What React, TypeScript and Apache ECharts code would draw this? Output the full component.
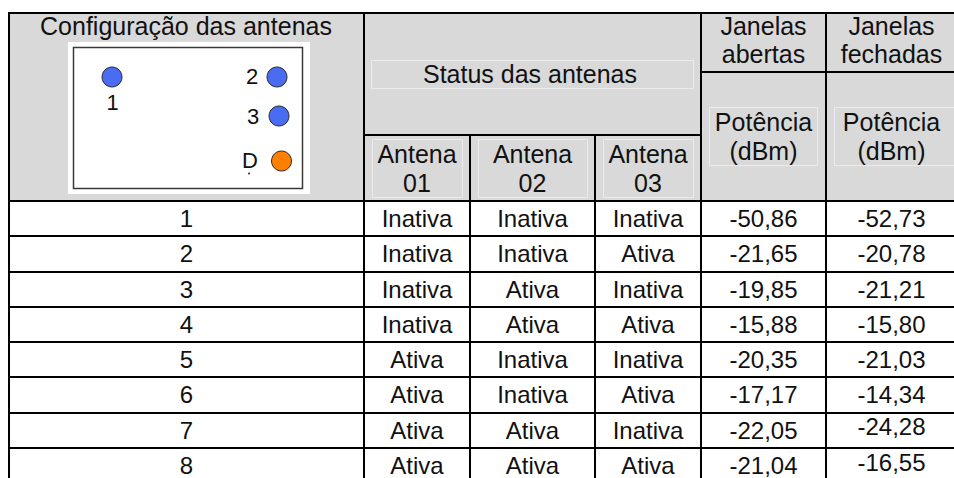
import React, { useEffect, useRef } from "react";
import * as echarts from "echarts";

// ---- Data ----
const configuracoes = ["1", "2", "3", "4", "5", "6", "7", "8"];
const antena01 = ["Inativa", "Inativa", "Inativa", "Inativa", "Ativa", "Ativa", "Ativa", "Ativa"];
const antena02 = ["Inativa", "Inativa", "Ativa", "Ativa", "Inativa", "Inativa", "Ativa", "Ativa"];
const antena03 = ["Inativa", "Ativa", "Inativa", "Ativa", "Inativa", "Ativa", "Inativa", "Ativa"];
const potenciaAbertas = [-50.86, -21.65, -19.85, -15.88, -20.35, -17.17, -22.05, -21.04];
const potenciaFechadas = [-52.73, -20.78, -21.21, -15.8, -21.03, -14.34, -24.28, -16.55];

const tituloConfig = "Configuração das antenas";
const tituloStatus = "Status das antenas";
const antenaHeaders = [["Antena", "01"], ["Antena", "02"], ["Antena", "03"]];
const janelasHeaders = [["Janelas", "abertas"], ["Janelas", "fechadas"]];
const potenciaHeader = ["Potência", "(dBm)"];
const diagramLabels = ["1", "2", "3", "D"];

// ---- Layout ----
const W = 954;
const H = 478;
const LEFT = 9;
const TOP = 13;
const RIGHT = 957;
const COLS = [LEFT, 364, 470, 595, 701, 826, RIGHT];
const HEADER_BOTTOM = 201;
const ROW_H = 35.25;
const STATUS_SPLIT = 135;
const JANELAS_SPLIT = 72;
const FONT = "'Liberation Sans', Arial, Helvetica, sans-serif";
const FS_BODY = 24;
const FS_HEAD = 25;
const TXT = "#111111";
const GREY = "#d9d9d9";
// small vertical shifts of the closed-window column text in the last rows (layout only)
const FECHADAS_SHIFT = [0, 0, 0, 0, 0, 0, -4, -3];

const fmt = (v: number) => v.toFixed(2).replace(".", ",");

function txt(text: string, x: number, y: number, size = FS_BODY): any {
  return {
    type: "text",
    x,
    y,
    silent: true,
    style: {
      text,
      fill: TXT,
      fontSize: size,
      fontFamily: FONT,
      align: "center",
      verticalAlign: "middle",
    },
  };
}

function line(x1: number, y1: number, x2: number, y2: number, w = 2, c = "#000"): any {
  return { type: "line", silent: true, shape: { x1, y1, x2, y2 }, style: { stroke: c, lineWidth: w } };
}

function faintBox(x1: number, y1: number, x2: number, y2: number): any {
  return {
    type: "rect",
    silent: true,
    shape: { x: x1 + 0.5, y: y1 + 0.5, width: x2 - x1, height: y2 - y1 },
    style: { fill: "none", stroke: "#ebebeb", lineWidth: 1 },
  };
}

function buildElements(): any[] {
  const els: any[] = [];
  // header background
  els.push({
    type: "rect",
    silent: true,
    shape: { x: LEFT, y: TOP, width: RIGHT - LEFT, height: HEADER_BOTTOM - TOP },
    style: { fill: GREY },
  });

  // faint text frames in header
  els.push(faintBox(371, 60, 693, 88));
  els.push(faintBox(372, 139, 462, 197));
  els.push(faintBox(478, 139, 587, 197));
  els.push(faintBox(603, 139, 693, 197));
  els.push(faintBox(709, 107, 817, 165));
  els.push(faintBox(834, 107, 956, 165));

  // diagram image
  els.push({ type: "rect", silent: true, shape: { x: 68, y: 42, width: 242, height: 152 }, style: { fill: "#ffffff" } });
  els.push({
    type: "rect",
    silent: true,
    shape: { x: 73.5, y: 47.5, width: 229, height: 141 },
    style: { fill: "#ffffff", stroke: "#3a3a3a", lineWidth: 1.5 },
  });
  const circles = [
    { cx: 112, cy: 77, fill: "#4a6cf2" },
    { cx: 277, cy: 77, fill: "#4a6cf2" },
    { cx: 279, cy: 116, fill: "#4a6cf2" },
    { cx: 281.5, cy: 161, fill: "#ff8000" },
  ];
  circles.forEach((c) =>
    els.push({
      type: "circle",
      silent: true,
      shape: { cx: c.cx, cy: c.cy, r: 10 },
      style: { fill: c.fill, stroke: "#2a2a2a", lineWidth: 1 },
    })
  );
  const labelPos = [
    [112.5, 102.5],
    [252, 76],
    [253, 116],
    [250, 160],
  ];
  diagramLabels.forEach((l, i) => els.push(txt(l, labelPos[i][0], labelPos[i][1], 22)));
  els.push({ type: "circle", silent: true, shape: { cx: 249, cy: 173.5, r: 1.1 }, style: { fill: "#444" } });

  // header texts
  els.push(txt(tituloConfig, 186, 26, FS_HEAD));
  els.push(txt(tituloStatus, 530, 74, FS_HEAD));
  antenaHeaders.forEach((h, i) => {
    const cx = (COLS[i + 1] + COLS[i + 2]) / 2;
    els.push(txt(h[0], cx, 154, FS_HEAD));
    els.push(txt(h[1], cx, 182.5, FS_HEAD));
  });
  janelasHeaders.forEach((h, i) => {
    const cx = (COLS[i + 4] + COLS[i + 5]) / 2;
    els.push(txt(h[0], cx, 25.5, FS_HEAD));
    els.push(txt(h[1], cx, 54, FS_HEAD));
    els.push(txt(potenciaHeader[0], cx, 122, FS_HEAD));
    els.push(txt(potenciaHeader[1], cx, 151, FS_HEAD));
  });

  // body rows
  const columns = [
    configuracoes,
    antena01,
    antena02,
    antena03,
    potenciaAbertas.map(fmt),
    potenciaFechadas.map(fmt),
  ];
  configuracoes.forEach((_, r) => {
    const cy = HEADER_BOTTOM + ROW_H * (r + 0.5);
    columns.forEach((col, c) => {
      const cx = (COLS[c] + COLS[c + 1]) / 2;
      const dy = c === 5 ? FECHADAS_SHIFT[r] : 0;
      els.push(txt(col[r], cx, cy + dy));
    });
  });

  // grid lines
  els.push(line(LEFT - 1, TOP, W, TOP));
  els.push(line(LEFT, TOP - 1, LEFT, H));
  els.push(line(COLS[1], TOP, COLS[1], H));
  els.push(line(COLS[2], STATUS_SPLIT, COLS[2], H));
  els.push(line(COLS[3], STATUS_SPLIT, COLS[3], H));
  els.push(line(COLS[4], TOP, COLS[4], H));
  els.push(line(COLS[5], TOP, COLS[5], H));
  els.push(line(COLS[1], STATUS_SPLIT, COLS[4], STATUS_SPLIT));
  els.push(line(COLS[4], JANELAS_SPLIT, W, JANELAS_SPLIT));
  for (let r = 0; r <= configuracoes.length; r++) {
    const y = Math.round(HEADER_BOTTOM + ROW_H * r);
    if (y < H) els.push(line(LEFT, y, W, y));
  }
  return els;
}

export default function App() {
  const ref = useRef<HTMLDivElement>(null);
  useEffect(() => {
    document.body.style.margin = "0";
    const chart = echarts.init(ref.current as HTMLDivElement, null, { renderer: "svg", width: W, height: H });
    chart.setOption({
      animation: false,
      backgroundColor: "#ffffff",
      graphic: { elements: buildElements() },
    });
    return () => chart.dispose();
  }, []);
  return <div ref={ref} style={{ width: W, height: H, position: "absolute", left: 0, top: 0 }} />;
}
